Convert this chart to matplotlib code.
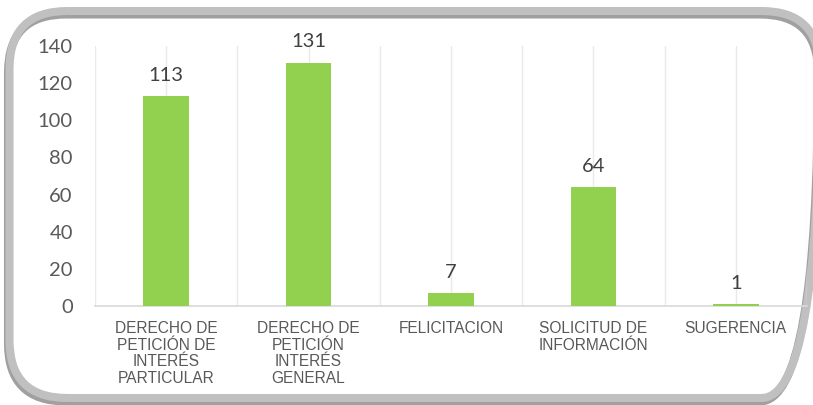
import matplotlib
matplotlib.use("Agg")
import matplotlib.pyplot as plt
from matplotlib.patches import FancyBboxPatch

categories = ["DERECHO DE\nPETICIÓN DE\nINTERÉS\nPARTICULAR",
              "DERECHO DE\nPETICIÓN\nINTERÉS\nGENERAL",
              "FELICITACION",
              "SOLICITUD DE\nINFORMACIÓN",
              "SUGERENCIA"]
values = [113, 131, 7, 64, 1]
yticks = [0, 20, 40, 60, 80, 100, 120, 140]

W, H = 813, 405
fig = plt.figure(figsize=(W / 100, H / 100), dpi=100)

# background frame axes (pixel coordinates)
bg = fig.add_axes([0, 0, 1, 1])
bg.set_xlim(0, W)
bg.set_ylim(H, 0)
bg.axis("off")
L, T, R, B = 9.5, 11, 819.5, 398
shadow = FancyBboxPatch((L - 1.5, T + 3.5), R - L, B - T, boxstyle="round,pad=0,rounding_size=58",
                        fill=False, edgecolor="#A0A0A0", linewidth=5.8, zorder=1, clip_on=False)
bg.add_patch(shadow)
frame = FancyBboxPatch((L, T), R - L, B - T, boxstyle="round,pad=0,rounding_size=58",
                       fill=False, edgecolor="#C0C0C0", linewidth=5.8, zorder=2, clip_on=False)
bg.add_patch(frame)

ax = fig.add_axes([95 / W, 1 - 306 / H, (807 - 95) / W, (306 - 46) / H])
ax.patch.set_alpha(0)
x = list(range(len(categories)))
bars = ax.bar(x, values, width=0.32, color="#92D050", zorder=3)
ax.set_xlim(-0.5, len(categories) - 0.5)
ax.set_ylim(0, 140)
ax.set_yticks(yticks)
ax.set_yticklabels([str(t) for t in yticks], fontsize=14.5, color="#595959", family="Lato")
ax.set_xticks(x)
ax.set_xticklabels(categories, fontsize=11.2, color="#595959", family="Liberation Sans",
                   linespacing=1.12, va="top")
ax.tick_params(axis="both", length=0)
ax.tick_params(axis="y", pad=16)
ax.tick_params(axis="x", pad=11)

# vertical gridlines at centers and boundaries
for i in range(len(categories)):
    ax.axvline(i, color="#E9E9E9", lw=1, zorder=1)
    ax.axvline(i - 0.5, color="#E9E9E9", lw=1, zorder=1)
ax.axvline(len(categories) - 0.5, color="#E9E9E9", lw=1, zorder=1)

for s in ["top", "right", "left"]:
    ax.spines[s].set_visible(False)
ax.spines["bottom"].set_color("#D9D9D9")
ax.spines["bottom"].set_linewidth(1.2)

for xi, v in zip(x, values):
    ax.annotate(str(v), (xi, v), xytext=(0, 9), textcoords="offset points",
                ha="center", va="bottom", fontsize=14.5, color="#404040", family="Lato")

fig.savefig("out.png", dpi=100)
